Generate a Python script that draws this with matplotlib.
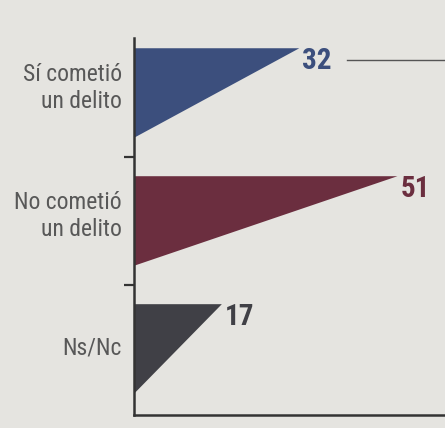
import matplotlib
matplotlib.use("Agg")
import matplotlib.pyplot as plt
from matplotlib.lines import Line2D

categories = ["Sí cometió\nun delito", "No cometió\nun delito", "Ns/Nc"]
values = [32, 51, 17]
value_labels = ["32", "51", "17"]

colors = ["#3c4f7d", "#6b2e3f", "#404046"]
bg = "#e5e4e0"
text_col = "#585858"

plt.rcParams['font.family'] = ['Roboto Condensed', 'Archivo Narrow', 'DejaVu Sans']

fig = plt.figure(figsize=(4.45, 4.28), dpi=100)
fig.patch.set_facecolor(bg)
W, H = 445, 428
ax = fig.add_axes([134 / W, (H - 415) / H, (W - 134) / W, (415 - 38) / H])
ax.set_facecolor(bg)

XMAX = 60.2
half = 0.35
for i, (v, c) in enumerate(zip(values, colors)):
    top = i - half
    bot = i + half
    ax.fill([0, v, 0], [top, top, bot], color=c, lw=0)
    ax.text(v + 0.6, top + 0.165, value_labels[i], ha='left', va='baseline',
            fontsize=21, fontweight='bold', color=c)

ax.set_xlim(0, XMAX)
ax.set_ylim(2.516, -0.43)

ax.set_yticks([0.5, 1.5])
ax.set_yticklabels([])
ax.tick_params(axis='y', length=7, width=1.6, color="#333333", direction='out')
ax.set_xticks([])

for i, lab in enumerate(categories):
    dy = -0.04 if "\n" in lab else -0.01
    ax.text(-2.3, i + dy, lab, ha='right', va='center',
            fontsize=17, color=text_col, linespacing=1.2)

for s in ['top', 'right']:
    ax.spines[s].set_visible(False)
ax.spines['left'].set_color("#333333")
ax.spines['left'].set_linewidth(1.8)
ax.spines['bottom'].set_color("#333333")
ax.spines['bottom'].set_linewidth(1.8)

# leader line to the right of the first value
ax.add_line(Line2D([41.2, XMAX], [-0.26, -0.26], color="#555555", lw=1.0))

fig.savefig("out.png", dpi=100, facecolor=bg)
